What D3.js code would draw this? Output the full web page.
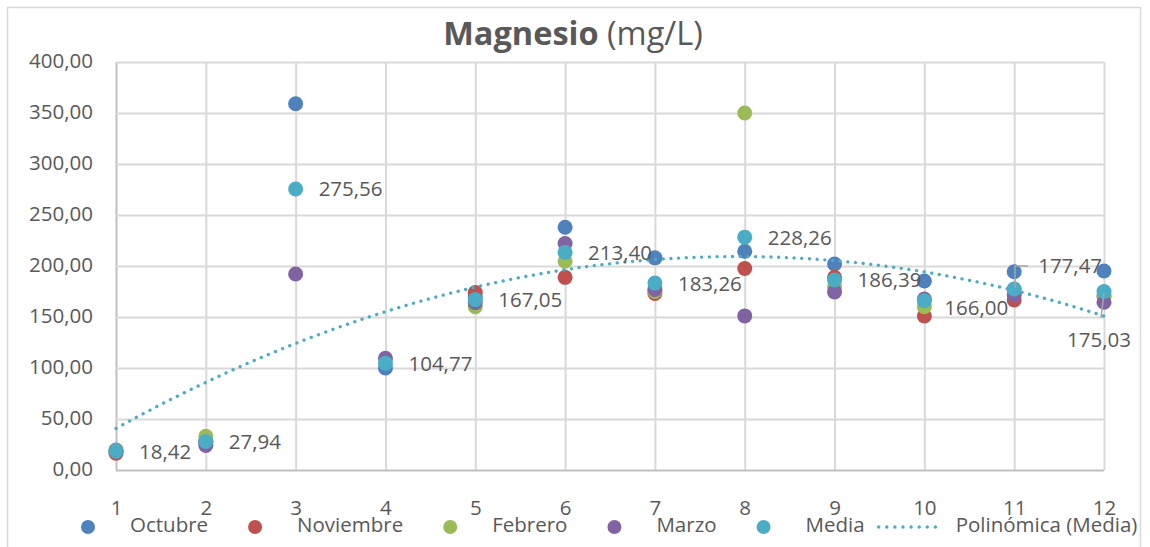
<!DOCTYPE html>
<html>
<head>
<meta charset="utf-8">
<script src="https://cdn.jsdelivr.net/npm/d3@7"></script>
<style>
  body { margin: 0; background: #fff; }
  svg text { font-family: "Open Sans", sans-serif; fill: #595959; }
</style>
</head>
<body>
<svg id="chart"></svg>
<script>
// months (x categories) and series
const months = [1, 2, 3, 4, 5, 6, 7, 8, 9, 10, 11, 12];
const octubre = [19.5, 28, 359.0, 100.0, 170.2, 238.0, 208.0, 214.5, 202.0, 185.3, 194.4, 195.1];
const noviembre = [16.5, 27, null, null, 174.0, 188.9, 173.0, 197.5, 189.0, 151.0, 166.7, 170.0];
const febrero = [19.2, 33, null, null, 160.0, 204.7, 175.0, 350.0, 180.0, 160.1, 177.2, 170.5];
const marzo = [18.5, 24, 192.1, 109.5, 164.0, 222.0, 177.0, 151.1, 174.6, 167.6, 171.6, 164.5];
const media = [18.42, 27.94, 275.56, 104.77, 167.05, 213.40, 183.26, 228.26, 186.39, 166.00, 177.47, 175.03];
const yTicks = [0, 50, 100, 150, 200, 250, 300, 350, 400];

const seriesNames = ["Octubre", "Noviembre", "Febrero", "Marzo", "Media"];
const seriesValues = [octubre, noviembre, febrero, marzo, media];
const colors = ["#4f81bd", "#c0504d", "#9bbb59", "#8064a2", "#4bacc6"];

const width = 1150, height = 547;
const fmt = v => d3.format(".2f")(v).replace(".", ",");

const svg = d3.select("#chart").attr("width", width).attr("height", height);

// chart frame
svg.append("rect")
  .attr("x", 7.5).attr("y", 7.5)
  .attr("width", 1133).attr("height", 560)
  .attr("fill", "none").attr("stroke", "#d9d9d9").attr("stroke-width", 1.5);

const xScale = d3.scaleLinear().domain([1, 12]).range([116, 1104]);
const yScale = d3.scaleLinear().domain([0, 400]).range([470, 62]);

// grid
const xAxis = d3.axisBottom(xScale).tickValues(months).tickSize(-(470 - 62)).tickSizeOuter(0).tickFormat(d3.format("d"));
const yAxis = d3.axisLeft(yScale).tickValues(yTicks).tickSize(-(1104 - 116)).tickSizeOuter(0).tickFormat(fmt);

const gx = svg.append("g").attr("transform", "translate(0,470)").call(xAxis);
const gy = svg.append("g").attr("transform", "translate(116,0)").call(yAxis);
[gx, gy].forEach(g => {
  g.select(".domain").remove();
  g.selectAll("line").attr("stroke", "#d9d9d9").attr("stroke-width", 2);
  g.selectAll("text").attr("fill", "#595959").style("font-size", "20.5px");
});
gx.selectAll("text").attr("dy", null).attr("y", 40).attr("dominant-baseline", "middle");
gy.selectAll("text").attr("x", -23).attr("dy", null).attr("dominant-baseline", "middle");
gy.selectAll(".tick").filter(d => d === 0).select("line").attr("stroke", "#bfbfbf");
gx.selectAll(".tick").filter(d => d === 1).select("line").attr("stroke", "#bfbfbf");

// markers
seriesValues.forEach((vals, i) => {
  svg.append("g")
    .selectAll("circle")
    .data(months.map((m, j) => ({ x: m, y: vals[j] })).filter(d => d.y != null))
    .enter()
    .append("circle")
    .attr("cx", d => xScale(d.x))
    .attr("cy", d => yScale(d.y))
    .attr("r", 7.5)
    .attr("fill", colors[i]);
});

// polynomial (order 2) trendline fitted to Media
function polyFit2(xs, ys) {
  let s = [0, 0, 0, 0, 0], t = [0, 0, 0];
  xs.forEach((x, i) => {
    for (let k = 0; k < 5; k++) s[k] += Math.pow(x, k);
    for (let k = 0; k < 3; k++) t[k] += ys[i] * Math.pow(x, k);
  });
  const A = [[s[0], s[1], s[2], t[0]], [s[1], s[2], s[3], t[1]], [s[2], s[3], s[4], t[2]]];
  for (let c = 0; c < 3; c++) {
    for (let r = c + 1; r < 3; r++) {
      const f = A[r][c] / A[c][c];
      for (let k = c; k < 4; k++) A[r][k] -= f * A[c][k];
    }
  }
  const b = [0, 0, 0];
  for (let r = 2; r >= 0; r--) {
    let acc = A[r][3];
    for (let k = r + 1; k < 3; k++) acc -= A[r][k] * b[k];
    b[r] = acc / A[r][r];
  }
  return x => b[0] + b[1] * x + b[2] * x * x;
}
const trend = polyFit2(months, media);
const trendPts = d3.range(1, 12.001, 0.05).map(x => [x, trend(x)]);
svg.append("path")
  .datum(trendPts)
  .attr("fill", "none")
  .attr("stroke", "#4bacc6")
  .attr("stroke-width", 3.3)
  .attr("stroke-linecap", "round")
  .attr("stroke-dasharray", "0.1 7.6")
  .attr("d", d3.line().x(d => xScale(d[0])).y(d => yScale(d[1])));

// data labels for Media (a few were moved by hand in the original)
const labelShift = { 10: [20, 9], 11: [24, -21], 12: [-37, 50] };
const leaders = {
  11: [[1028, 266], [1015, 266], [1015, 288]],
  12: [[1101, 318], [1104, 293]]
};
Object.values(leaders).forEach(pts => {
  svg.append("path")
    .attr("d", d3.line()(pts))
    .attr("fill", "none").attr("stroke", "#a6a6a6").attr("stroke-width", 1.5);
});
svg.append("g")
  .selectAll("text")
  .data(months.map((m, j) => ({ x: m, y: media[j] })))
  .enter()
  .append("text")
  .attr("x", d => xScale(d.x) + (labelShift[d.x] ? labelShift[d.x][0] : 23))
  .attr("y", d => yScale(d.y) + (labelShift[d.x] ? labelShift[d.x][1] : 2))
  .attr("dominant-baseline", "middle")
  .style("font-size", "20.5px")
  .text(d => fmt(d.y));

// title
const title = svg.append("text")
  .attr("x", 573).attr("y", 36)
  .attr("text-anchor", "middle")
  .attr("dominant-baseline", "middle")
  .style("font-size", "32.5px");
title.append("tspan").style("font-weight", "bold").text("Magnesio");
title.append("tspan").text(" (mg/L)");

// legend
const legend = svg.append("g");
let lx = 88;
const ly = 527;
seriesNames.forEach((name, i) => {
  legend.append("circle").attr("cx", lx).attr("cy", ly).attr("r", 7).attr("fill", colors[i]);
  const t = legend.append("text").attr("x", lx + 42).attr("y", ly)
    .attr("dominant-baseline", "middle").style("font-size", "20.5px").text(name);
  lx = lx + 42 + t.node().getComputedTextLength() + 47;
});
lx -= 33;
legend.append("line")
  .attr("x1", lx).attr("x2", lx + 64).attr("y1", ly).attr("y2", ly)
  .attr("stroke", "#4bacc6").attr("stroke-width", 3.3)
  .attr("stroke-linecap", "round").attr("stroke-dasharray", "0.1 8");
legend.append("text").attr("x", lx + 77).attr("y", ly)
  .attr("dominant-baseline", "middle").style("font-size", "20.5px")
  .text("Polinómica (Media)");
</script>
</body>
</html>
